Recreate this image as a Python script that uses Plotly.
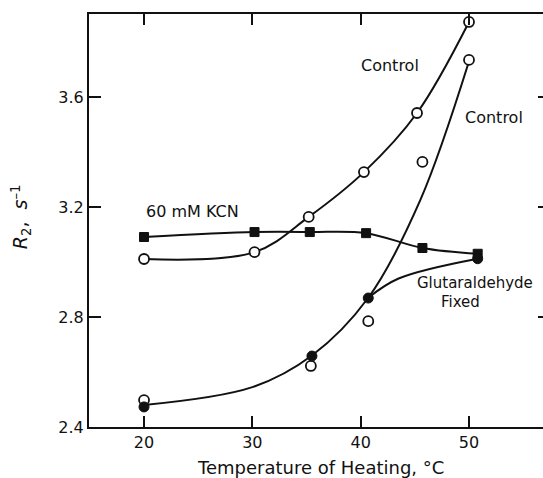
import plotly.graph_objects as go

# Measured points: R2 (s^-1) against heating temperature (°C)
ctrl_a_temp = [20, 30.2, 35.2, 40.3, 45.2, 50.0]
ctrl_a_r2 = [3.011, 3.036, 3.164, 3.327, 3.542, 3.873]

ctrl_b_temp = [20, 35.4, 40.7, 45.7, 50.0]
ctrl_b_r2 = [2.498, 2.622, 2.785, 3.364, 3.735]

kcn_temp = [20, 30.2, 35.3, 40.5, 45.7, 50.8]
kcn_r2 = [3.091, 3.109, 3.109, 3.105, 3.051, 3.030]

glut_temp = [20, 35.5, 40.7, 50.8]
glut_r2 = [2.473, 2.658, 2.869, 3.012]

# Hand-drawn trend curves (knots of the smooth lines)
ctrl_b_curve_temp = [20, 30, 35.5, 40.7, 45.5, 50.0]
ctrl_b_curve_r2 = [2.48, 2.545, 2.66, 2.87, 3.225, 3.73]

glut_curve_temp = [40.7, 43.5, 50.8]
glut_curve_r2 = [2.87, 2.94, 3.012]

x_ticks = [20, 30, 40, 50]
y_ticks = [2.4, 2.8, 3.2, 3.6]
y_tick_text = ["2.4", "2.8", "3.2", "3.6"]

FONT = "DejaVu Sans"
BLACK = "#111111"

fig = go.Figure()

line_style = dict(color=BLACK, width=2, shape="spline", smoothing=1.0)

# Curves
fig.add_trace(go.Scatter(x=ctrl_a_temp, y=ctrl_a_r2, mode="lines", line=line_style,
                         hoverinfo="skip", showlegend=False))
fig.add_trace(go.Scatter(x=ctrl_b_curve_temp, y=ctrl_b_curve_r2, mode="lines", line=line_style,
                         hoverinfo="skip", showlegend=False))
fig.add_trace(go.Scatter(x=glut_curve_temp, y=glut_curve_r2, mode="lines", line=line_style,
                         hoverinfo="skip", showlegend=False))
fig.add_trace(go.Scatter(x=kcn_temp, y=kcn_r2, mode="lines", line=line_style,
                         hoverinfo="skip", showlegend=False))

# Markers
open_marker = dict(symbol="circle", size=10, color="white", line=dict(color=BLACK, width=1.8))
fig.add_trace(go.Scatter(x=ctrl_a_temp, y=ctrl_a_r2, mode="markers", marker=open_marker,
                         name="Control", showlegend=False))
fig.add_trace(go.Scatter(x=ctrl_b_temp, y=ctrl_b_r2, mode="markers", marker=open_marker,
                         name="Control", showlegend=False))
fig.add_trace(go.Scatter(x=kcn_temp, y=kcn_r2, mode="markers",
                         marker=dict(symbol="square", size=9, color=BLACK, line=dict(color=BLACK, width=1)),
                         name="60 mM KCN", showlegend=False))
fig.add_trace(go.Scatter(x=glut_temp, y=glut_r2, mode="markers",
                         marker=dict(symbol="circle", size=10, color=BLACK, line=dict(color=BLACK, width=1)),
                         name="Glutaraldehyde Fixed", showlegend=False))

# Right-hand axis carrying only inward ticks
fig.add_trace(go.Scatter(x=[20], y=[2.4], yaxis="y2", mode="markers",
                         marker=dict(opacity=0), hoverinfo="skip", showlegend=False))

labels = [
    (42.7, 3.716, "Control", 16),
    (52.3, 3.527, "Control", 16),
    (24.43, 3.182, "60 mM KCN", 16),
    (50.55, 2.924, "Glutaraldehyde", 15),
    (49.17, 2.855, "Fixed", 15),
]
for lx, ly, txt, fs in labels:
    fig.add_annotation(x=lx, y=ly, text=txt, showarrow=False,
                       font=dict(family=FONT, size=fs, color=BLACK),
                       xanchor="center", yanchor="middle")

fig.add_annotation(xref="paper", yref="paper", x=0.511, y=-0.099,
                   text="Temperature of Heating, °C", showarrow=False,
                   font=dict(family=FONT, size=18, color=BLACK),
                   xanchor="center", yanchor="middle")
fig.add_annotation(xref="paper", yref="paper", x=-0.15, y=0.51,
                   text="<i>R</i><sub>2</sub>,  <i>s</i><sup>–1</sup>", textangle=-90,
                   showarrow=False, font=dict(family=FONT, size=19, color=BLACK),
                   xanchor="center", yanchor="middle")

y_range = [2.4, 3.902]

fig.update_layout(
    width=543, height=478,
    margin=dict(l=89, r=0, t=14, b=51),
    paper_bgcolor="white", plot_bgcolor="white",
    font=dict(family=FONT, size=16, color=BLACK),
    xaxis=dict(range=[14.92, 56.83], tickvals=x_ticks, ticks="inside", ticklen=11,
               tickwidth=1.5, tickcolor=BLACK, showline=True, linecolor=BLACK, linewidth=2,
               mirror="ticks", showgrid=False, zeroline=False,
               tickfont=dict(family=FONT, size=16, color=BLACK)),
    yaxis=dict(range=y_range, tickvals=y_ticks, ticktext=y_tick_text, ticks="inside",
               ticklen=12, tickwidth=1.5, tickcolor=BLACK, showline=True, linecolor=BLACK,
               linewidth=2, mirror=False, showgrid=False, zeroline=False,
               tickfont=dict(family=FONT, size=16, color=BLACK)),
    yaxis2=dict(range=y_range, overlaying="y", side="right", tickvals=y_ticks,
                ticks="inside", ticklen=5, tickwidth=1.5, tickcolor=BLACK,
                showline=False, showgrid=False, zeroline=False, showticklabels=False),
)

fig.write_html("out.html")
